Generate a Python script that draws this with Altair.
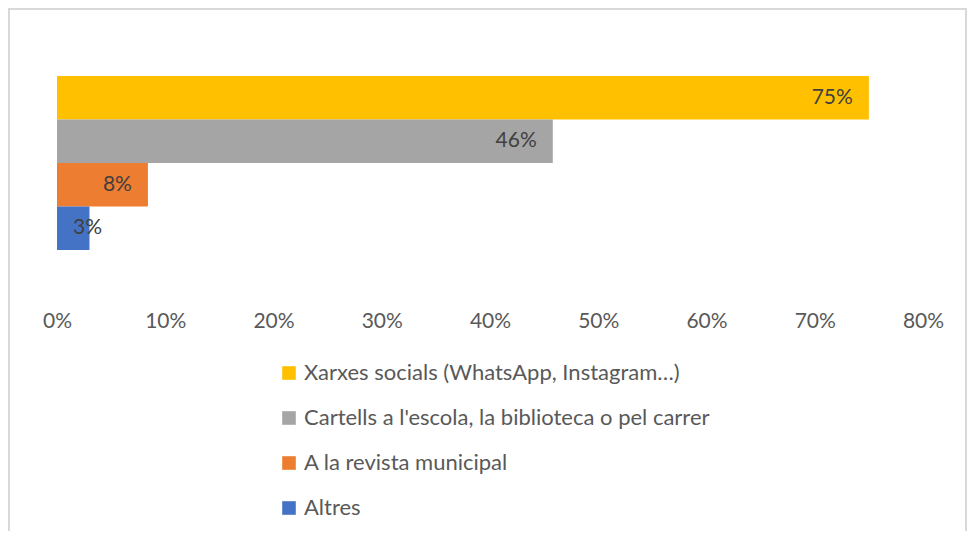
import altair as alt
import pandas as pd

series = ["Xarxes socials (WhatsApp, Instagram…)",
          "Cartells a l'escola, la biblioteca o pel carrer",
          "A la revista municipal",
          "Altres"]
values = [0.75, 0.458, 0.084, 0.03]
colors = ["#FFC000", "#A5A5A5", "#ED7D31", "#4472C4"]
ticks = [0, 0.1, 0.2, 0.3, 0.4, 0.5, 0.6, 0.7, 0.8]

df = pd.DataFrame({"series": series, "value": values})
FONT = "Lato"

x = alt.X("value:Q", scale=alt.Scale(domain=[0, 0.8], nice=False),
          axis=alt.Axis(values=ticks, format=".0%", grid=False, domain=False,
                        ticks=False, labelPadding=60, labelFontSize=21,
                        labelFlush=False, labelOverlap=False,
                        labelColor="#595959", labelFont=FONT, title=None))
y = alt.Y("series:N", sort=series,
          scale=alt.Scale(paddingInner=0, paddingOuter=0), axis=None)

bars = alt.Chart(df).mark_bar().encode(
    x=x, y=y,
    color=alt.Color("series:N", sort=series,
                    scale=alt.Scale(domain=series, range=colors),
                    legend=alt.Legend(orient="none", legendX=221, legendY=286,
                                      title=None, symbolType="square",
                                      symbolSize=185, symbolStrokeWidth=0,
                                      labelFontSize=22, labelFont=FONT,
                                      labelColor="#595959", rowPadding=23,
                                      labelOffset=4, labelLimit=700)),
)

big = alt.Chart(df).transform_filter("datum.value >= 0.05").mark_text(
    align="right", baseline="middle", dx=-16, fontSize=21, font=FONT,
    color="#404040").encode(x="value:Q", y=alt.Y("series:N", sort=series),
                            text=alt.Text("value:Q", format=".0%"))

small = alt.Chart(df).transform_filter("datum.value < 0.05").mark_text(
    align="left", baseline="middle", dx=16, fontSize=21, font=FONT,
    color="#404040").encode(x=alt.value(0), y=alt.Y("series:N", sort=series),
                            text=alt.Text("value:Q", format=".0%"))

frame = alt.Chart(df).mark_rect(fill=None, stroke="#D9D9D9", strokeWidth=2,
                                clip=False).encode(
    x=alt.value(-48), x2=alt.value(909), y=alt.value(-67), y2=alt.value(520))

chart = alt.layer(frame, bars, big, small).properties(
    width=866, height=174,
    autosize=alt.AutoSizeParams(type="none"),
    padding={"left": 49, "top": 68, "right": 45, "bottom": 281},
    view=alt.ViewBackground(stroke="transparent", strokeWidth=0),
).configure_view(stroke="transparent", strokeWidth=0).configure(background="white")

chart.save("out.html", embed_options={"renderer": "svg", "actions": False})
